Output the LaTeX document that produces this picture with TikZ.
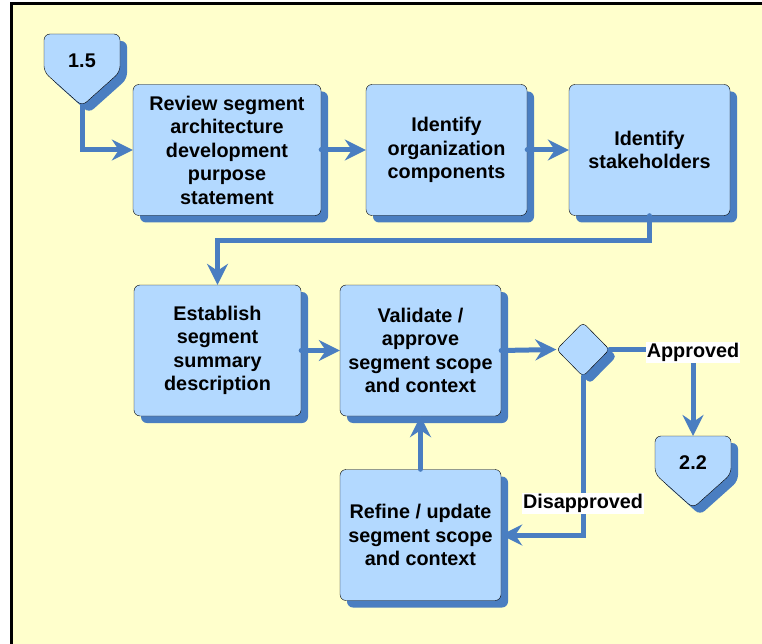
\documentclass[tikz,border=0pt]{standalone}
\usepackage{fontspec}
\setmainfont{Liberation Sans}
\usetikzlibrary{arrows.meta}
\usetikzlibrary{shapes.geometric}
\usetikzlibrary{shadows}
\definecolor{flowblue}{RGB}{74,126,193}
\definecolor{boxblue}{RGB}{179,217,255}
\definecolor{pageyellow}{RGB}{255,255,204}

\begin{document}
\begin{tikzpicture}[x=1pt,y=-1pt,
    every node/.style={font=\bfseries\fontsize{19.8}{23.5}\selectfont,align=center},
    shade/.style={drop shadow={shadow xshift=7pt,shadow yshift=-7pt,fill=flowblue,opacity=1}},
    task/.style={draw=black,fill=boxblue,rounded corners=6pt,inner sep=0pt,
      minimum width=161pt,minimum height=131pt,shade},
    decision/.style={diamond,draw=black,fill=boxblue,rounded corners=4pt,inner sep=0pt,
      minimum width=53pt,minimum height=54pt,shade},
    flow/.style={draw=flowblue,line width=5pt,line cap=round,
      -{Stealth[length=21pt,width=21pt,inset=7pt]}},
    answer/.style={fill=white,inner sep=1pt}]
  \useasboundingbox (0,0) rectangle (762,644);
  \fill[white] (0,0) rectangle (762,644);
  \begin{scope}
    \clip (0,0) rectangle (762,644);
    \filldraw[fill=pageyellow,draw=black,line width=3pt]
      (11.5,4)
      rectangle
      (800,700);
  \end{scope}

  % off-page connectors
  \foreach \px/\py/\nm/\txt in {44/34/c15/1.5,655/436/c22/2.2}{
    \fill[flowblue,xshift=7pt,yshift=-7pt,rounded corners=6pt]
      (\px,\py) -- ++(76,0) -- ++(0,38) -- ++(-38,34) -- ++(-38,-34) -- cycle;
    \filldraw[fill=boxblue,draw=black,rounded corners=6pt]
      (\px,\py) -- ++(76,0) -- ++(0,38) -- ++(-38,34) -- ++(-38,-34) -- cycle;
    \node (\nm) at (\px+38,\py+27) {\txt};
    \coordinate (\nm-top) at (\px+38,\py);
    \coordinate (\nm-tip) at (\px+38,\py+72);
  }

  % tasks
  \node[task,minimum width=188pt] (review) at (227,150)
    {Review segment\\architecture\\development\\purpose\\statement};
  \node[task] (orgcomp) at (446.5,150) {Identify\\organization\\components};
  \node[task] (stakeh) at (649.5,150) {Identify\\stakeholders};
  \node[task,minimum width=167pt] (summary) at (217.5,350.5)
    {Establish\\segment\\summary\\description};
  \node[task] (validate) at (420.5,350.5)
    {Validate /\\approve\\segment scope\\and context};
  \node[task] (refine) at (420.5,535)
    {Refine / update\\segment scope\\and context};
  \node[decision] (approved) at (583,349.5) {};

  % flow
  \draw[flow] (c15-tip) |- (review.west);
  \draw[flow] (review.east) -- (orgcomp.west);
  \draw[flow] (orgcomp.east) -- (stakeh.west);
  \draw[flow] (stakeh.south) -- ++(0,25) -| (summary.north);
  \draw[flow] (summary.east) -- (validate.west);
  \draw[flow] (validate.east) -- (approved.west);
  \draw[flow] (approved.east)
    -| node[answer,pos=0.5,yshift=-3pt] (yes) {Approved}
    (c22-top);
  \draw[flow] (approved.south)
    |- node[answer,pos=0.4] (no) {Disapproved}
    (refine.east);
  \draw[flow] (refine.north) -- (validate.south);
\end{tikzpicture}
\end{document}
